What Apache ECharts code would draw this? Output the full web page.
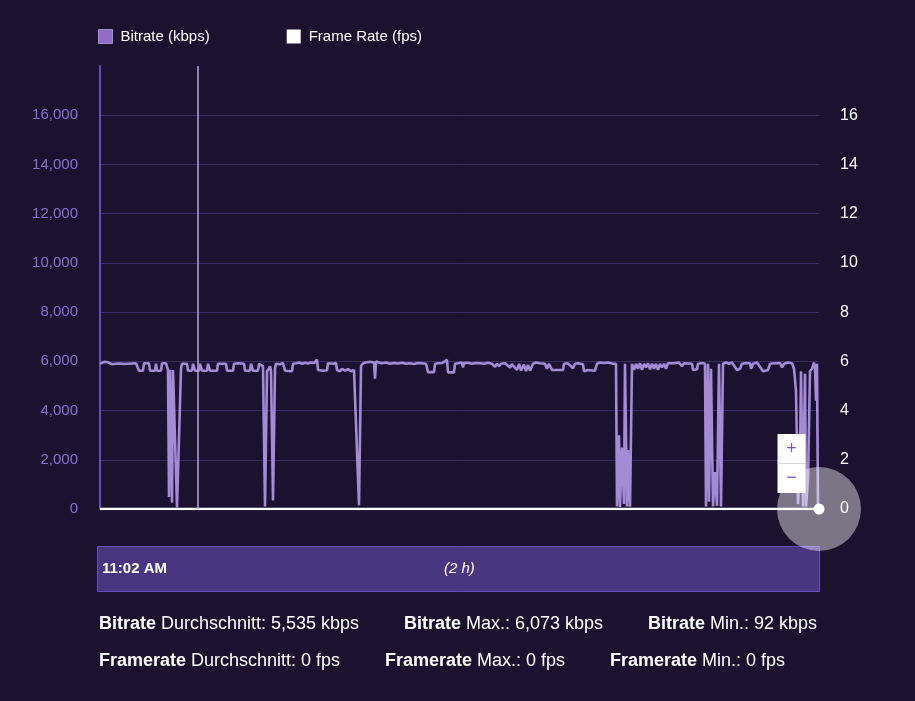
<!DOCTYPE html>
<html>
<head>
<meta charset="utf-8">
<script src="https://cdn.jsdelivr.net/npm/echarts@6/dist/echarts.min.js"></script>
<style>
html,body{margin:0;padding:0;background:#1c1230;}
#c{width:915px;height:701px;}
</style>
</head>
<body>
<div id="c"></div>
<script>
// seconds since 11:02 AM and bitrate in kbps
const seconds = [0,20,40,60,80,100,120,140,160,180,200,220,240,260,280,300,320,340,360,380,
390,430,440,490,500,550,560,570,610,620,660,
680,690,700,720,730,750,770,790,810,820,
870,880,920,930,940,950,990,1000,1010,1020,1070,1080,1090,1100,1170,1180,
1200,1230,1260,1270,1330,1340,1380,1440,1450,1500,1510,1520,1530,1580,1590,1610,
1630,1650,1670,1690,1700,1710,1730,1750,1760,
1780,1800,1830,1840,1850,1920,1930,
1960,1990,2020,2050,2080,2110,2140,2160,2170,2180,2200,2230,2250,2270,2280,
2300,2330,2360,2370,2400,2420,2450,2480,2510,2540,2560,2590,2610,2630,
2660,2700,2720,2740,2750,2760,2770,2790,
2820,2860,2900,2940,2980,3020,3060,3100,3140,3180,3220,3260,
3270,3280,3340,3350,3380,3420,3470,3480,3540,3550,
3580,3620,3630,3640,3680,3720,3760,3800,3840,3880,3920,3950,3970,3990,4010,4050,4100,4120,4140,4170,4190,4210,4240,4260,4280,4300,4330,
4360,4400,4450,4470,4490,4510,4520,4630,4640,
4680,4700,4730,4750,4780,4830,4840,4880,4900,4950,4970,
5000,5040,5080,5130,5150,
5160,5170,5190,5200,5220,5240,5250,5270,5280,5300,5320,
5340,5360,5380,5400,5420,5440,5460,5480,5500,5520,5540,5560,5580,5600,5620,5640,5660,5680,5700,5740,
5760,5790,5820,5840,5920,5930,5970,5980,6020,6040,
6050,6060,6080,6090,6110,6130,6150,6170,6190,6210,6230,
6260,6290,6320,6370,6400,6420,6460,6500,6510,6530,6570,6630,6680,6700,6740,6800,6820,6840,6880,6920,
6940,6960,6980,7000,7010,7030,7050,7060,7080,7100,7120,7140,7150,7160,7170,7180];
const kbps = [5900,5950,5980,5930,5960,5900,5880,5920,5900,5940,5910,5930,5890,5920,5900,5930,5910,5950,5920,5900,
5620,5620,5920,5920,5620,5620,5900,5620,5620,5920,5920,
5650,490,5650,250,5650,5600,60,40,5700,5900,
5900,5620,5620,5900,5900,5620,5620,5900,5900,5620,5620,5900,5900,5620,5620,5900,
5930,5900,5900,5620,5620,5900,5920,5900,5620,5620,5900,5900,5620,5620,5900,5900,
5800,100,5600,5700,5800,5600,350,5700,5900,
5920,5880,5930,5900,5620,5600,5900,
5920,5950,5900,5940,5910,5950,5930,5960,6073,5650,5700,5620,5700,5640,5920,
5950,5900,5930,5650,5600,5700,5620,5680,5600,5650,5700,150,5800,5920,
5950,5980,6050,5950,5300,6000,6060,5950,
5920,5950,5900,5930,5910,5940,5900,5920,5890,5930,5920,5900,
5900,5560,5560,5900,5920,5930,6060,5550,5550,5900,
5920,5950,5750,5930,5940,5900,5930,5920,5900,5940,5900,5780,5900,5800,5900,5920,5750,5880,5900,5650,5900,5620,5870,5600,5850,5620,5900,
5950,5920,5900,5700,5900,5900,5650,5650,5900,
5920,5950,5720,5900,5920,5880,5600,5650,5580,5620,5900,
5950,5930,5950,5900,5950,
5900,100,3000,80,2500,200,5900,100,2400,92,5900,
5650,5900,5700,5920,5650,5900,5750,5920,5680,5900,5700,5900,5650,5900,5750,5900,5700,5920,5900,5920,
5900,5950,5800,5920,5900,5650,5680,5900,5930,5950,
5900,100,5900,300,5700,100,1500,120,5900,100,5900,
5950,5900,5950,5650,5700,5900,5930,5920,5700,5900,5950,5600,5650,5900,5920,5930,5750,5900,5950,5920,
5700,4800,200,2000,5600,100,5500,100,1200,5600,5700,5950,5700,4400,5900,0];
const fpsSeconds = [0, 7190];
const fps = [0, 0];
const leftTicks = [0, 2000, 4000, 6000, 8000, 10000, 12000, 14000, 16000];
const rightTicks = [0, 2, 4, 6, 8, 10, 12, 14, 16];
const cursorSecond = 980;
const startLabel = '11:02 AM';
const durationLabel = '(2 h)';
const stats = [
  ['Bitrate', ' Durchschnitt: 5,535 kbps'],
  ['Bitrate', ' Max.: 6,073 kbps'],
  ['Bitrate', ' Min.: 92 kbps'],
  ['Framerate', ' Durchschnitt: 0 fps'],
  ['Framerate', ' Max.: 0 fps'],
  ['Framerate', ' Min.: 0 fps']
];

const bitrateData = seconds.map((s, i) => [s, kbps[i]]);
const fpsData = fpsSeconds.map((s, i) => i === fpsSeconds.length - 1
  ? {value: [s, fps[i]], symbol: 'circle', symbolSize: 11}
  : {value: [s, fps[i]], symbol: 'none'});
const lastFps = [fpsSeconds[fpsSeconds.length - 1], fps[fps.length - 1]];

const FONT = 'Arial, "Liberation Sans", sans-serif';
const chart = echarts.init(document.getElementById('c'));

const statPos = [[99, 625], [404, 625], [648, 625], [99, 662], [385, 662], [610, 662]];
const statGraphics = stats.map((s, i) => ({
  type: 'text', left: statPos[i][0], top: statPos[i][1] - 10, z: 10,
  style: {
    text: '{b|' + s[0] + '}{n|' + s[1] + '}',
    rich: {
      b: {fontFamily: FONT, fontSize: 18, fontWeight: 'bold', fill: '#ffffff'},
      n: {fontFamily: FONT, fontSize: 18, fill: '#ffffff'}
    }
  }
}));

chart.setOption({
  backgroundColor: '#1c1230',
  animation: false,
  legend: {
    left: 93, top: 24, itemWidth: 14, itemHeight: 14, itemGap: 77,
    icon: 'rect',
    textStyle: {color: '#ffffff', fontSize: 15, fontFamily: FONT, padding: [0, 0, 0, 3]},
    data: [
      {name: 'Bitrate (kbps)', itemStyle: {color: '#8e6cc8', borderColor: '#a48ad6', borderWidth: 1}},
      {name: 'Frame Rate (fps)', itemStyle: {color: '#ffffff'}}
    ]
  },
  grid: {left: 100, right: 96, top: 66, bottom: 192},
  xAxis: {
    type: 'value', min: 0, max: 7190,
    axisLine: {show: false}, axisTick: {show: false}, axisLabel: {show: false}, splitLine: {show: false}
  },
  yAxis: [
    {
      type: 'value', min: 0, max: 18000, interval: 2000, position: 'left',
      axisLine: {show: true, lineStyle: {color: '#6a4bbd', width: 2}},
      axisTick: {show: false},
      axisLabel: {
        color: '#8c6fd3', fontSize: 15, fontFamily: FONT, margin: 22, showMaxLabel: false,
        formatter: v => leftTicks.includes(v) ? v.toLocaleString('en-US') : ''
      },
      splitLine: {show: true, showMaxLine: false, showMinLine: false, lineStyle: {color: '#3c2c66', width: 1}}
    },
    {
      type: 'value', min: 0, max: 18, interval: 2, position: 'right',
      axisLine: {show: false}, axisTick: {show: false},
      axisLabel: {
        color: '#ffffff', fontSize: 16, fontFamily: FONT, margin: 21, showMaxLabel: false,
        formatter: v => rightTicks.includes(v) ? String(v) : ''
      },
      splitLine: {show: false}
    }
  ],
  series: [
    {
      name: 'Bitrate (kbps)', type: 'line', yAxisIndex: 0, data: bitrateData,
      showSymbol: false, symbol: 'none',
      lineStyle: {color: '#a38bd6', width: 2.6},
      itemStyle: {color: '#8e6cc8'},
      z: 3,
      markLine: {
        silent: true, symbol: 'none', label: {show: false},
        lineStyle: {color: '#b6a6dc', width: 1.5, type: 'solid'},
        data: [{xAxis: cursorSecond}]
      }
    },
    {
      name: 'Frame Rate (fps)', type: 'line', yAxisIndex: 1, data: fpsData,
      lineStyle: {color: '#ffffff', width: 2.5},
      itemStyle: {color: '#ffffff'},
      z: 4,
      markPoint: {
        silent: true, symbol: 'circle', symbolSize: 84, label: {show: false},
        itemStyle: {color: 'rgba(255,255,255,0.42)'},
        data: [{coord: lastFps}]
      }
    }
  ],
  graphic: [
    {
      type: 'rect', left: 97, top: 546, z: 5,
      shape: {width: 722, height: 45},
      style: {fill: '#4a3580', stroke: '#6a4bc0', lineWidth: 1}
    },
    {
      type: 'text', left: 102, top: 561, z: 6,
      style: {text: startLabel, fontFamily: FONT, fontSize: 15, fontWeight: 'bold', fill: '#ffffff'}
    },
    {
      type: 'text', left: 444, top: 561, z: 6,
      style: {text: durationLabel, fontFamily: FONT, fontSize: 15, fontStyle: 'italic', fill: '#ffffff'}
    },
    {
      type: 'group', left: 775, top: 434, z: 20,
      children: [
        {type: 'rect', shape: {x: 0, y: 0, width: 28, height: 59}, style: {fill: '#ffffff'}, z: 20},
        {type: 'line', shape: {x1: 0, y1: 29.5, x2: 28, y2: 29.5}, style: {stroke: '#d8d8d8', lineWidth: 1}, z: 21},
        {type: 'text', x: 14, y: 15, z: 21, style: {text: '+', fontFamily: FONT, fontSize: 18, fill: '#7a5cc4', align: 'center', verticalAlign: 'middle'}},
        {type: 'text', x: 14, y: 44, z: 21, style: {text: '\u2212', fontFamily: FONT, fontSize: 18, fill: '#7a5cc4', align: 'center', verticalAlign: 'middle'}}
      ]
    }
  ].concat(statGraphics)
});
</script>
</body>
</html>
